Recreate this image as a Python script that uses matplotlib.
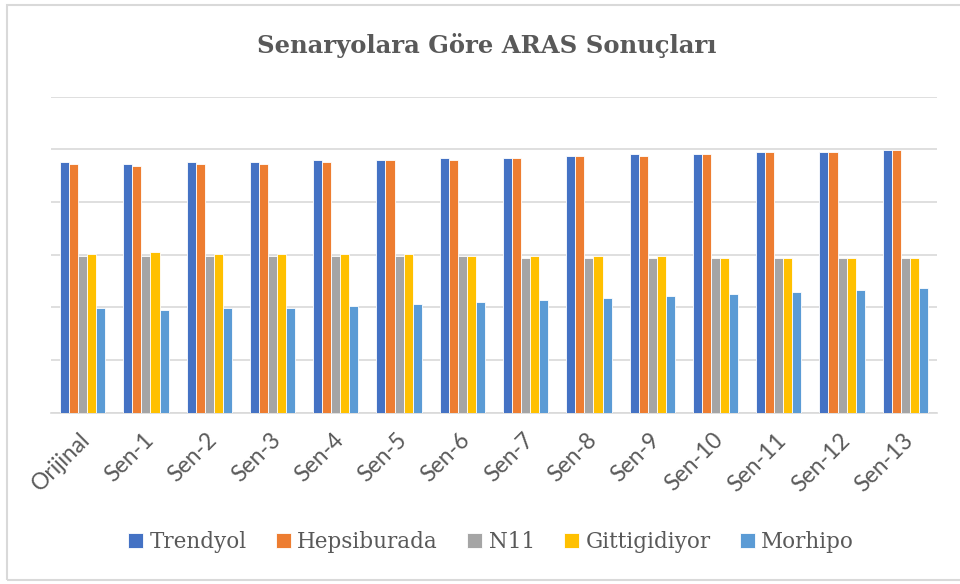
import matplotlib
matplotlib.use("Agg")
import matplotlib.pyplot as plt
from matplotlib.patches import Patch, Rectangle
import matplotlib.transforms as mtransforms
import numpy as np

categories = ["Orijinal", "Sen-1", "Sen-2", "Sen-3", "Sen-4", "Sen-5", "Sen-6",
              "Sen-7", "Sen-8", "Sen-9", "Sen-10", "Sen-11", "Sen-12", "Sen-13"]
series_names = ["Trendyol", "Hepsiburada", "N11", "Gittigidiyor", "Morhipo"]
trendyol =     [0.951, 0.943, 0.951, 0.951, 0.959, 0.959, 0.967, 0.967, 0.974, 0.982, 0.982, 0.989, 0.989, 0.997]
hepsiburada =  [0.943, 0.936, 0.943, 0.943, 0.951, 0.959, 0.959, 0.967, 0.974, 0.974, 0.982, 0.989, 0.989, 0.997]
n11 =          [0.595, 0.595, 0.595, 0.595, 0.595, 0.595, 0.595, 0.587, 0.587, 0.587, 0.586, 0.586, 0.586, 0.586]
gittigidiyor = [0.602, 0.609, 0.602, 0.602, 0.601, 0.601, 0.595, 0.595, 0.595, 0.595, 0.586, 0.586, 0.586, 0.586]
morhipo =      [0.396, 0.389, 0.396, 0.396, 0.404, 0.411, 0.419, 0.427, 0.434, 0.442, 0.449, 0.457, 0.465, 0.472]
series = [trendyol, hepsiburada, n11, gittigidiyor, morhipo]
colors = ["#4472C4", "#ED7D31", "#A5A5A5", "#FFC000", "#5B9BD5"]

W, H = 960, 584
fig = plt.figure(figsize=(W / 100, H / 100), dpi=100)
ax = fig.add_axes([51 / W, 1 - 412.7 / H, (937 - 51) / W, (412.7 - 96.7) / H])

x = np.arange(len(categories))
bw = 0.143
for i, (vals, c) in enumerate(zip(series, colors)):
    ax.bar(x + (i - 2) * bw, vals, width=bw, color=c, edgecolor="white",
           linewidth=0.6, zorder=3, label=series_names[i])

ax.set_xlim(-0.5, len(categories) - 0.5)
ax.set_ylim(0, 1.2)
ax.set_yticks(np.arange(0, 1.21, 0.2))
ax.yaxis.grid(True, color="#D9D9D9", linewidth=1.2, zorder=0)
ax.tick_params(axis="y", left=False, labelleft=False)
ax.tick_params(axis="x", bottom=False, length=0, pad=12)
for s in ["top", "right", "left"]:
    ax.spines[s].set_visible(False)
ax.spines["bottom"].set_color("#D9D9D9")
ax.spines["bottom"].set_linewidth(1.2)
ax.set_xticks(x)
ax.set_xticklabels(categories, rotation=45, ha="right", va="top",
                   rotation_mode="anchor", fontsize=16.5, color="#595959",
                   family="Lato")
offset = mtransforms.ScaledTranslation(-3 / 100, 0, fig.dpi_scale_trans)
for lbl in ax.get_xticklabels():
    lbl.set_transform(lbl.get_transform() + offset)

fig.text(487 / W, 1 - 45 / H, "Senaryolara Göre ARAS Sonuçları", ha="center", va="center",
         fontsize=17.5, fontweight="bold", color="#595959", family="DejaVu Serif")

handles = [Patch(facecolor=c, edgecolor="white", linewidth=0.6) for c in colors]
leg = fig.legend(handles, series_names, ncol=5, loc="center",
                 bbox_to_anchor=(491 / W, 1 - 542 / H), frameon=False,
                 handlelength=0.7, handleheight=0.7, handletextpad=0.3,
                 columnspacing=1.35, prop={"family": "DejaVu Serif", "size": 15.5})
for t in leg.get_texts():
    t.set_color("#595959")

# chart area border
border = Rectangle((6.5 / W, 1 - 580 / H), (W + 10) / W, (580 - 5) / H,
                   transform=fig.transFigure, fill=False, edgecolor="#D9D9D9",
                   linewidth=1.5, clip_on=False)
fig.add_artist(border)

fig.savefig("out.png", dpi=100)
